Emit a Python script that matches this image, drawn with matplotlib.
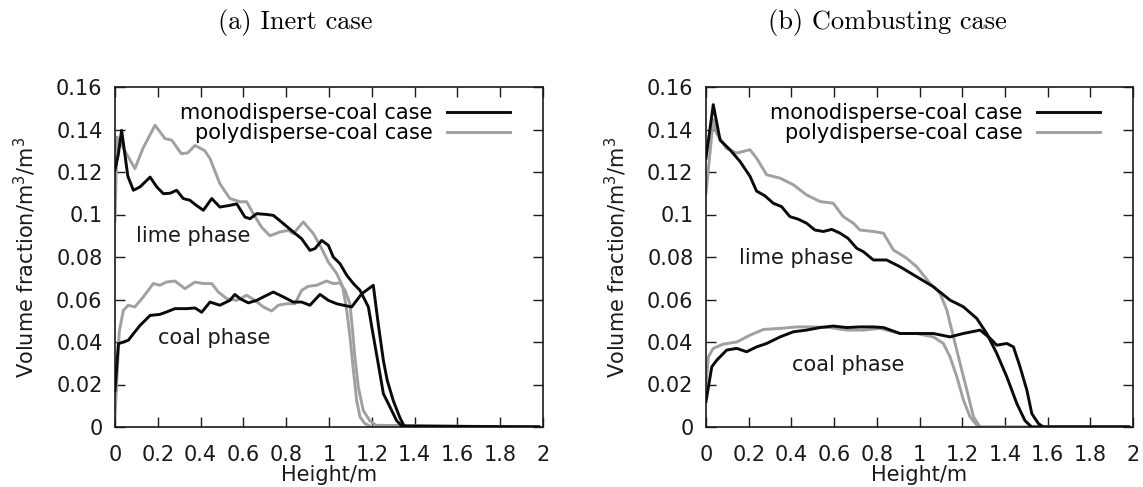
import matplotlib
matplotlib.use("Agg")
import matplotlib.pyplot as plt

# ---------------- data ----------------
# (a) Inert case
a_mono_lime_h = [0.0, 0.015, 0.031, 0.06, 0.086, 0.117, 0.164, 0.195, 0.226, 0.257, 0.288, 0.319, 0.35, 0.38,
                 0.413, 0.452, 0.49, 0.537, 0.569, 0.607, 0.631, 0.662, 0.709, 0.74, 0.787, 0.833, 0.872, 0.911,
                 0.935, 0.966, 0.997, 1.02, 1.051, 1.083, 1.114, 1.145, 1.184, 1.2, 1.23, 1.254, 1.285, 1.316,
                 1.34, 1.98]
a_mono_lime_v = [0.121, 0.128, 0.1396, 0.118, 0.1114, 0.113, 0.1176, 0.113, 0.1098, 0.110, 0.1114, 0.1075, 0.1067,
                 0.1043, 0.102, 0.1075, 0.1035, 0.1043, 0.105, 0.0988, 0.098, 0.1004, 0.100, 0.0996, 0.0957,
                 0.0918, 0.0886, 0.0831, 0.084, 0.0878, 0.0855, 0.080, 0.0769, 0.0714, 0.0675, 0.0643, 0.0565,
                 0.047, 0.0298, 0.0157, 0.0094, 0.003, 0.0005, 0.0]

a_poly_lime_h = [0.0, 0.01, 0.04, 0.093, 0.13, 0.187, 0.234, 0.265, 0.31, 0.34, 0.374, 0.42, 0.444, 0.49, 0.537,
                 0.584, 0.615, 0.646, 0.685, 0.724, 0.771, 0.81, 0.833, 0.88, 0.927, 0.958, 0.997, 1.036, 1.051,
                 1.064, 1.083, 1.098, 1.114, 1.129, 1.145, 1.168, 1.2, 1.98]
a_poly_lime_v = [0.097, 0.1365, 0.131, 0.1216, 0.131, 0.142, 0.1357, 0.135, 0.1286, 0.129, 0.1325, 0.130, 0.1263,
                 0.1145, 0.1075, 0.106, 0.106, 0.1004, 0.094, 0.090, 0.0918, 0.0925, 0.091, 0.0965, 0.091, 0.0855,
                 0.0776, 0.0722, 0.069, 0.0659, 0.0549, 0.0424, 0.0267, 0.0126, 0.0047, 0.0016, 0.0, 0.0]

a_mono_coal_h = [0.0, 0.016, 0.062, 0.086, 0.117, 0.164, 0.21, 0.24, 0.28, 0.335, 0.374, 0.405, 0.444, 0.49, 0.537,
                 0.56, 0.584, 0.623, 0.662, 0.709, 0.74, 0.787, 0.833, 0.872, 0.911, 0.958, 0.997, 1.036, 1.067,
                 1.106, 1.153, 1.207, 1.23, 1.254, 1.272, 1.3, 1.33, 1.353, 1.98]
a_mono_coal_v = [0.017, 0.0392, 0.0408, 0.0439, 0.0478, 0.0525, 0.053, 0.0541, 0.0557, 0.0557, 0.056, 0.054,
                 0.0588, 0.0573, 0.0596, 0.0624, 0.0604, 0.0584, 0.0596, 0.062, 0.0635, 0.0612, 0.0588, 0.0588,
                 0.0573, 0.0624, 0.0596, 0.058, 0.0573, 0.0565, 0.0627, 0.0667, 0.0486, 0.0314, 0.022, 0.0125,
                 0.0047, 0.0, 0.0]

a_poly_coal_h = [0.0, 0.02, 0.039, 0.062, 0.093, 0.132, 0.179, 0.21, 0.24, 0.28, 0.327, 0.374, 0.413, 0.452, 0.483,
                 0.522, 0.569, 0.615, 0.654, 0.693, 0.732, 0.763, 0.802, 0.841, 0.872, 0.903, 0.942, 0.989, 1.02,
                 1.051, 1.075, 1.098, 1.11, 1.121, 1.137, 1.16, 1.19, 1.22, 1.98]
a_poly_coal_v = [0.005, 0.045, 0.0549, 0.0573, 0.0565, 0.0612, 0.0675, 0.0667, 0.0682, 0.0687, 0.0651, 0.0682,
                 0.0675, 0.0675, 0.0635, 0.0604, 0.0596, 0.062, 0.0596, 0.0565, 0.0546, 0.0573, 0.058, 0.058,
                 0.0643, 0.0662, 0.0667, 0.0687, 0.0675, 0.0678, 0.0643, 0.058, 0.0455, 0.033, 0.0188, 0.0078,
                 0.003, 0.0008, 0.0]

# (b) Combusting case
b_mono_lime_h = [0.0, 0.034, 0.066, 0.112, 0.159, 0.206, 0.237, 0.276, 0.315, 0.354, 0.393, 0.432, 0.471, 0.51,
                 0.55, 0.589, 0.628, 0.665, 0.706, 0.737, 0.784, 0.846, 0.909, 0.987, 1.065, 1.143, 1.205, 1.268,
                 1.315, 1.362, 1.409, 1.456, 1.494, 1.525, 1.98]
b_mono_lime_v = [0.1265, 0.1517, 0.135, 0.1305, 0.125, 0.118, 0.111, 0.1088, 0.1053, 0.1037, 0.099, 0.0978,
                 0.0959, 0.0927, 0.092, 0.093, 0.0912, 0.0888, 0.0841, 0.0825, 0.0786, 0.0786, 0.0754, 0.0707,
                 0.066, 0.0597, 0.0566, 0.0511, 0.044, 0.0346, 0.0236, 0.011, 0.003, 0.0, 0.0]

b_poly_lime_h = [0.0, 0.034, 0.05, 0.097, 0.144, 0.206, 0.237, 0.284, 0.347, 0.409, 0.471, 0.534, 0.596, 0.643,
                 0.69, 0.721, 0.784, 0.831, 0.878, 0.94, 0.987, 1.049, 1.096, 1.128, 1.159, 1.19, 1.222, 1.253,
                 1.284, 1.98]
b_poly_lime_v = [0.11, 0.1446, 0.138, 0.131, 0.1289, 0.1305, 0.1265, 0.1187, 0.1171, 0.114, 0.1092, 0.1061,
                 0.1053, 0.099, 0.0959, 0.0927, 0.092, 0.0912, 0.0833, 0.0794, 0.0754, 0.0676, 0.0629, 0.055,
                 0.0424, 0.0299, 0.0173, 0.0047, 0.0, 0.0]

b_mono_coal_h = [0.0, 0.027, 0.05, 0.097, 0.144, 0.19, 0.237, 0.284, 0.347, 0.409, 0.471, 0.534, 0.596, 0.659,
                 0.721, 0.784, 0.831, 0.909, 0.987, 1.065, 1.143, 1.205, 1.284, 1.331, 1.362, 1.409, 1.44, 1.471,
                 1.503, 1.526, 1.557, 1.58, 1.98]
b_mono_coal_v = [0.012, 0.0283, 0.0314, 0.0362, 0.037, 0.0354, 0.0377, 0.0393, 0.0424, 0.0448, 0.0456, 0.0468,
                 0.0475, 0.0468, 0.0471, 0.0471, 0.0468, 0.044, 0.044, 0.044, 0.0424, 0.044, 0.0456, 0.0417,
                 0.0385, 0.0393, 0.0377, 0.0283, 0.0173, 0.0063, 0.0016, 0.0, 0.0]

b_poly_coal_h = [0.0, 0.011, 0.034, 0.081, 0.144, 0.206, 0.269, 0.347, 0.425, 0.503, 0.581, 0.659, 0.737, 0.815,
                 0.909, 0.987, 1.065, 1.112, 1.143, 1.175, 1.206, 1.237, 1.276, 1.98]
b_poly_coal_v = [0.02, 0.033, 0.037, 0.039, 0.040, 0.0432, 0.0459, 0.0464, 0.0471, 0.0471, 0.0468, 0.0456,
                 0.0456, 0.0464, 0.044, 0.044, 0.0424, 0.0393, 0.033, 0.0236, 0.0126, 0.0047, 0.0, 0.0]

x_ticks = [0, 0.2, 0.4, 0.6, 0.8, 1.0, 1.2, 1.4, 1.6, 1.8, 2.0]
x_tick_labels = ["0", "0.2", "0.4", "0.6", "0.8", "1", "1.2", "1.4", "1.6", "1.8", "2"]
y_ticks = [0, 0.02, 0.04, 0.06, 0.08, 0.10, 0.12, 0.14, 0.16]
y_tick_labels = ["0", "0.02", "0.04", "0.06", "0.08", "0.1", "0.12", "0.14", "0.16"]

titles = ["(a) Inert case", "(b) Combusting case"]
legend_labels = ["monodisperse-coal case", "polydisperse-coal case"]

# ---------------- figure ----------------
plt.rcParams['font.family'] = ['DejaVu Sans']
FS = 15
BLACK = "#0a0a0a"
GREY = "#a0a0a0"
TXT = "#1a1a1a"
LW = 2.1

fig = plt.figure(figsize=(11.43, 4.87), dpi=100)
ax_a = fig.add_axes([115 / 1143, 60 / 487, 428 / 1143, 340 / 487])
ax_b = fig.add_axes([706 / 1143, 60 / 487, 427 / 1143, 340 / 487])

panels = [
    (ax_a, (a_mono_lime_h, a_mono_lime_v), (a_poly_lime_h, a_poly_lime_v),
     (a_mono_coal_h, a_mono_coal_v), (a_poly_coal_h, a_poly_coal_v),
     (0.10, 0.0899), (0.20, 0.0419)),
    (ax_b, (b_mono_lime_h, b_mono_lime_v), (b_poly_lime_h, b_poly_lime_v),
     (b_mono_coal_h, b_mono_coal_v), (b_poly_coal_h, b_poly_coal_v),
     (0.155, 0.0795), (0.403, 0.0292)),
]

for ax, ml, pl, mc, pc, lime_pos, coal_pos in panels:
    ax.plot(*pl, color=GREY, lw=LW, label=legend_labels[1], zorder=2)
    ax.plot(*pc, color=GREY, lw=LW, zorder=2)
    ax.plot(*ml, color=BLACK, lw=LW, label=legend_labels[0], zorder=3)
    ax.plot(*mc, color=BLACK, lw=LW, zorder=3)
    ax.set_xlim(0, 2)
    ax.set_ylim(0, 0.16)
    ax.set_xticks(x_ticks)
    ax.set_xticklabels(x_tick_labels)
    ax.set_yticks(y_ticks)
    ax.set_yticklabels(y_tick_labels)
    ax.tick_params(direction='in', length=7, width=1.0, top=True, right=True,
                   labelsize=FS, colors=TXT)
    ax.tick_params(axis='y', pad=9)
    ax.tick_params(axis='x', pad=13)
    for s in ax.spines.values():
        s.set_linewidth(1.2)
        s.set_color(TXT)
    ax.set_xlabel("Height/m", fontsize=FS, labelpad=0, color=TXT)
    ax.set_ylabel("Volume fraction/m$^3$/m$^3$", fontsize=FS, labelpad=13, color=TXT)
    ax.text(lime_pos[0], lime_pos[1], "lime phase", fontsize=FS, ha='left', va='center', color=TXT)
    ax.text(coal_pos[0], coal_pos[1], "coal phase", fontsize=FS, ha='left', va='center', color=TXT)
    h, l = ax.get_legend_handles_labels()
    order = [1, 0]
    ax.legend([h[i] for i in order], [l[i] for i in order], loc='upper right',
              frameon=False, markerfirst=False, fontsize=FS, handlelength=3.0,
              handletextpad=0.7, labelspacing=0.0, borderaxespad=0.0,
              bbox_to_anchor=(1 - 25 / 428, 1 - 8 / 340))

fig.text(295 / 1143, 1 - 23 / 487, titles[0], family='cmr10', fontsize=19, ha='center', va='center')
fig.text(887 / 1143, 1 - 23 / 487, titles[1], family='cmr10', fontsize=19, ha='center', va='center')

fig.savefig("out.png", dpi=100)
